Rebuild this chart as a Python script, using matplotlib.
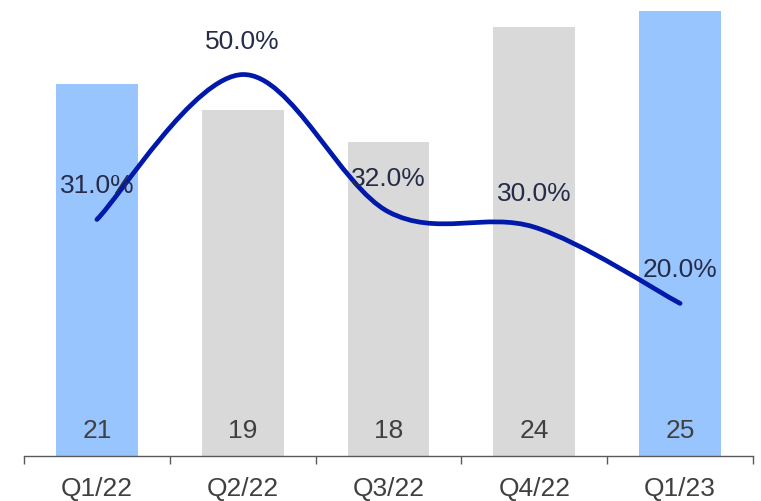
import matplotlib
matplotlib.use('Agg')
import matplotlib.pyplot as plt
from matplotlib.path import Path
from matplotlib.patches import PathPatch
import numpy as np

categories = ['Q1/22', 'Q2/22', 'Q3/22', 'Q4/22', 'Q1/23']
bar_values = [20.9, 19.4, 17.6, 24.1, 25.0]
bar_labels = ['21', '19', '18', '24', '25']
pct_values = [0.31, 0.50, 0.32, 0.30, 0.20]
bar_colors = ['#99c5ff', '#d9d9d9', '#d9d9d9', '#d9d9d9', '#99c5ff']

plt.rcParams['font.family'] = ['Liberation Sans', 'DejaVu Sans']
FS = 19

fig = plt.figure(figsize=(7.61, 5.02), dpi=100)
ax = fig.add_axes([24 / 761, 45 / 502, 729 / 761, 457 / 502])
x = np.arange(len(categories))
ax.bar(x, bar_values, width=0.56, color=bar_colors, zorder=1)
for xi, lab in zip(x, bar_labels):
    ax.annotate(lab, (xi, 0), xytext=(0, 26 * 0.72), textcoords='offset points',
                ha='center', va='center', fontsize=FS, color='#404040')
ax.set_xlim(-0.5, len(categories) - 0.5)
ax.set_ylim(0, 25.65)
ax.set_yticks([])
ax.set_xticks(x)
ax.set_xticklabels(categories, fontsize=FS, color='#404040')
ax.set_xticks(np.arange(-0.5, len(categories)), minor=True)
ax.tick_params(axis='x', which='major', length=0, pad=14.5)
ax.tick_params(axis='x', which='minor', length=5.8, width=1.0, color='#595959', direction='out')
for s in ['top', 'left', 'right']:
    ax.spines[s].set_visible(False)
ax.spines['bottom'].set_color('#595959')
ax.spines['bottom'].set_linewidth(1.0)

ax2 = ax.twinx()
ax2.set_ylim(0, 0.599)
ax2.set_yticks([])
for s in ['top', 'left', 'right', 'bottom']:
    ax2.spines[s].set_visible(False)

pts = np.column_stack([x, pct_values]).astype(float)
n = len(pts)
verts = [tuple(pts[0])]
codes = [Path.MOVETO]
for i in range(n - 1):
    p0 = pts[i - 1] if i > 0 else pts[i]
    p1 = pts[i]
    p2 = pts[i + 1]
    p3 = pts[i + 2] if i + 2 < n else pts[i + 1]
    c1 = p1 + (p2 - p0) / 6
    c2 = p2 - (p3 - p1) / 6
    verts += [tuple(c1), tuple(c2), tuple(p2)]
    codes += [Path.CURVE4] * 3
patch = PathPatch(Path(verts, codes), facecolor='none', edgecolor='#0019aa',
                  lw=3.4, capstyle='round', joinstyle='round', zorder=3)
ax2.add_patch(patch)

for xi, v in zip(x, pct_values):
    ax2.annotate(f'{v * 100:.1f}%', (xi, v), xytext=(0, 34 * 0.72), textcoords='offset points',
                 ha='center', va='center', fontsize=FS, color='#262b48', zorder=4)

fig.savefig('out.png', dpi=100)
